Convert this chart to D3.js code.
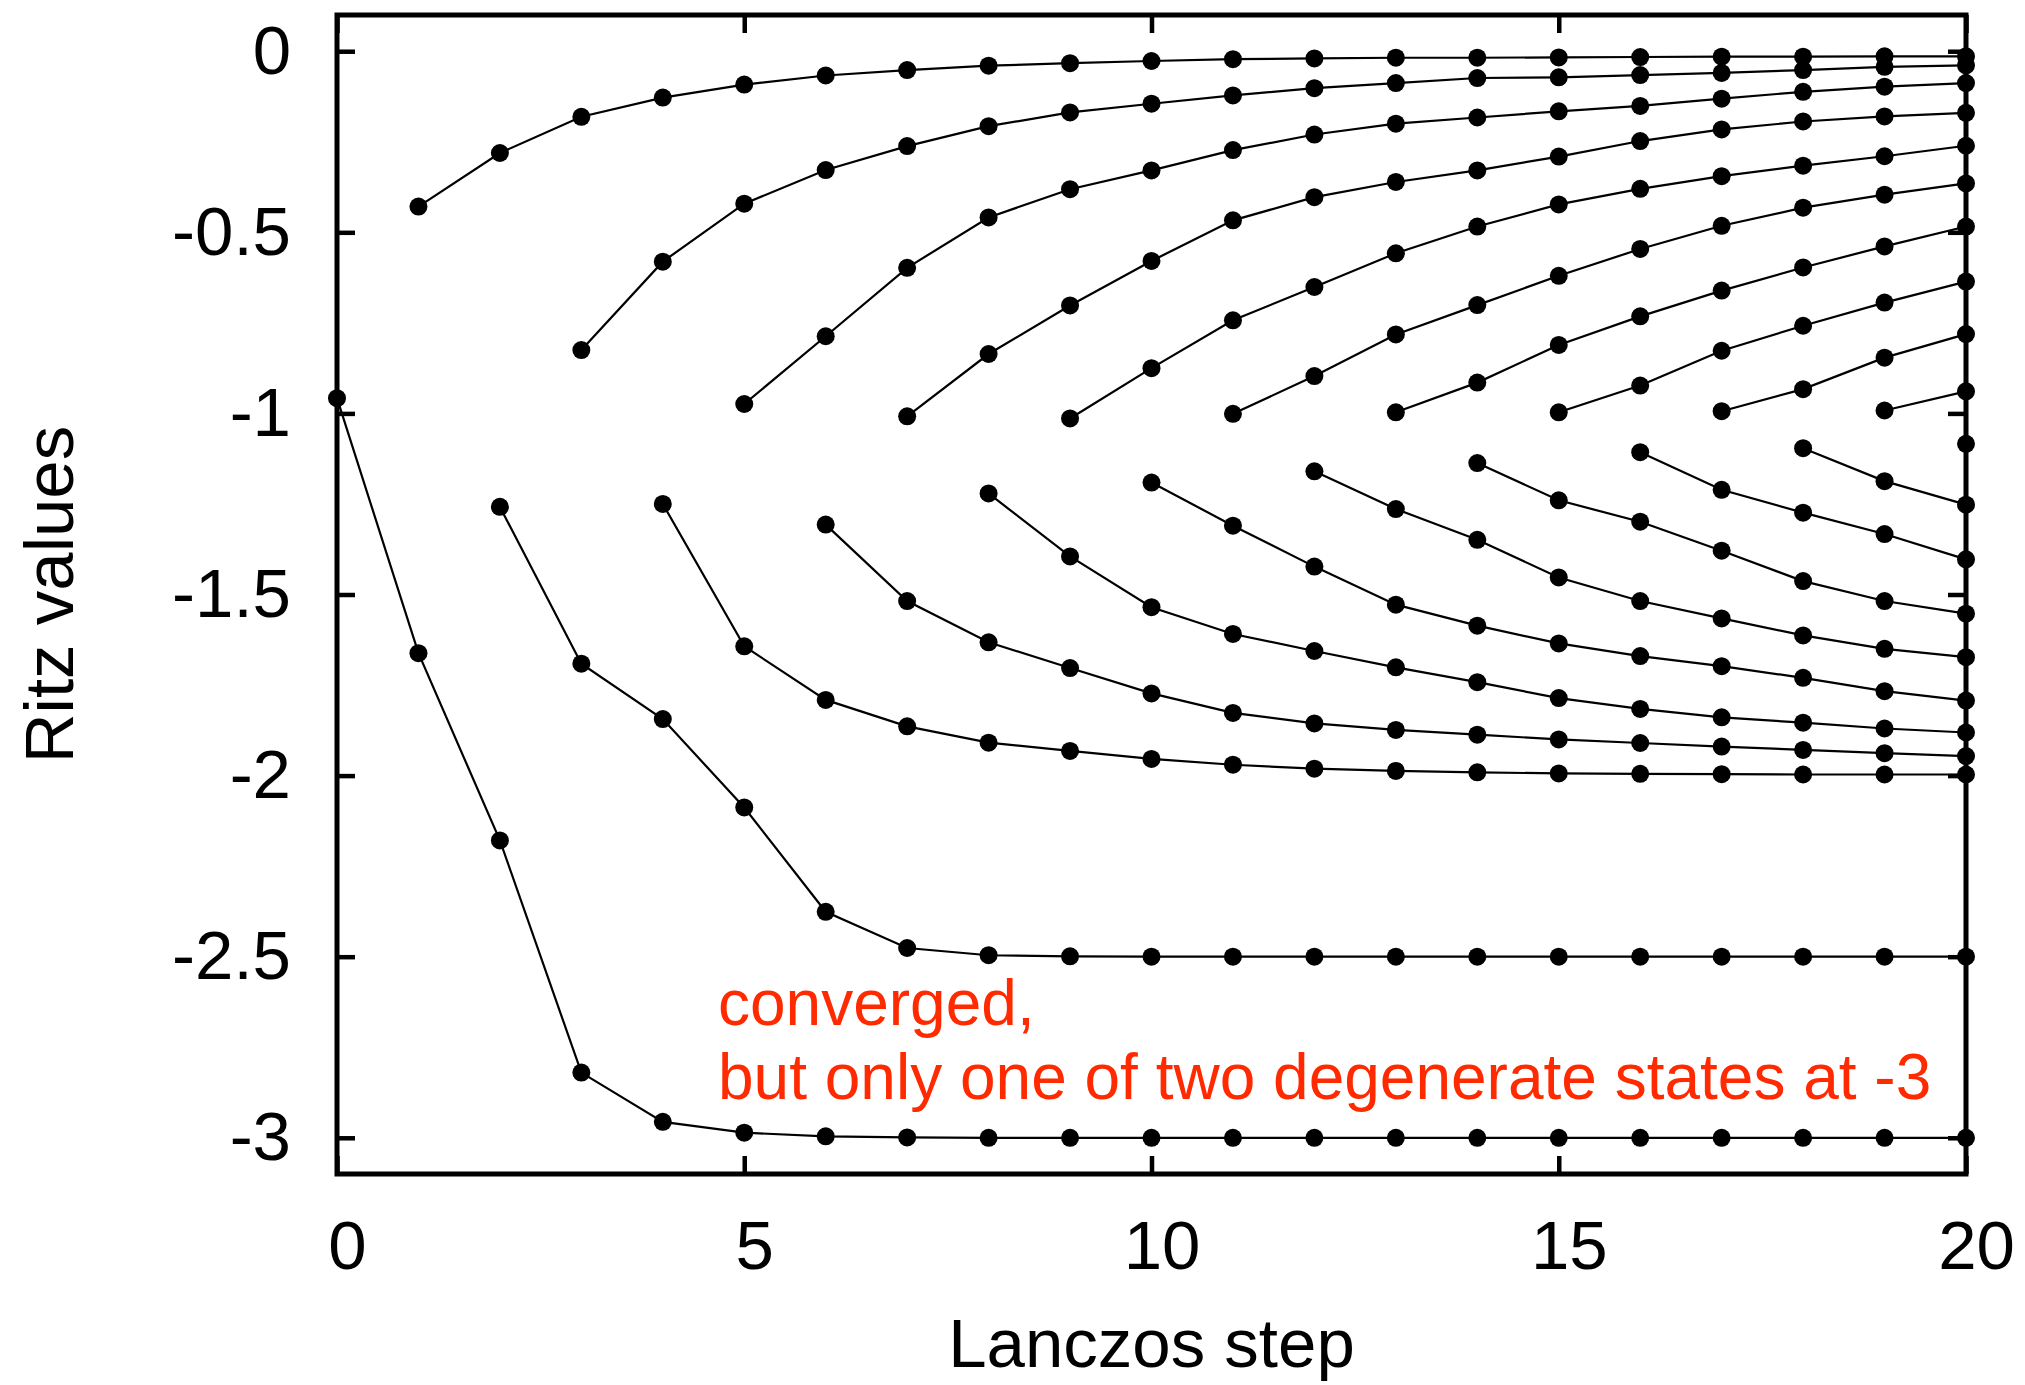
<!DOCTYPE html>
<html>
<head>
<meta charset="utf-8">
<script src="https://cdn.jsdelivr.net/npm/d3@7"></script>
<style>
  body { margin: 0; background: #fff; }
  text { font-family: "Liberation Sans", Arial, Helvetica, sans-serif; }
</style>
</head>
<body>
<div id="vis"></div>
<script>
const FRAME_WIDTH = 2025;
const FRAME_HEIGHT = 1385;
const MARGINS = { left: 337, right: 59, top: 15, bottom: 211 };

// x positions (Lanczos steps)
const steps = [0, 1, 2, 3, 4, 5, 6, 7, 8, 9, 10, 11, 12, 13, 14, 15, 16, 17, 18, 19, 20];

// Ritz values that climb towards the top, each starts at the given step
const topStarts = [1, 3, 5, 7, 9, 11, 13, 15, 17, 19];
const top0 = [-0.429, -0.281, -0.181, -0.128, -0.092, -0.067, -0.052, -0.040, -0.033, -0.027,
  -0.022, -0.020, -0.018, -0.018, -0.017, -0.016, -0.015, -0.015, -0.014, -0.014];
const top1 = [-0.825, -0.581, -0.421, -0.328, -0.262, -0.207, -0.169, -0.145, -0.122, -0.102,
  -0.088, -0.074, -0.072, -0.066, -0.060, -0.052, -0.043, -0.039];
const top2 = [-0.974, -0.787, -0.598, -0.459, -0.381, -0.329, -0.273, -0.230, -0.200, -0.183,
  -0.166, -0.151, -0.131, -0.112, -0.098, -0.088];
const top3 = [-1.008, -0.836, -0.702, -0.579, -0.467, -0.403, -0.361, -0.329, -0.291, -0.248,
  -0.216, -0.194, -0.180, -0.170];
const top4 = [-1.014, -0.875, -0.743, -0.651, -0.558, -0.484, -0.423, -0.380, -0.345, -0.316,
  -0.290, -0.261];
const top5 = [-1.001, -0.897, -0.782, -0.701, -0.620, -0.546, -0.482, -0.432, -0.396, -0.365];
const top6 = [-0.997, -0.915, -0.811, -0.732, -0.661, -0.597, -0.539, -0.484];
const top7 = [-0.997, -0.923, -0.827, -0.758, -0.694, -0.636];
const top8 = [-0.994, -0.933, -0.846, -0.781];
const top9 = [-0.992, -0.939];

// Ritz values that fall towards the bottom
const bottomStarts = [0, 2, 4, 6, 8, 10, 12, 14, 16, 18, 20];
const bottom0 = [-0.958, -1.662, -2.179, -2.820, -2.956, -2.986, -2.996, -2.999, -3.0, -3.0,
  -3.0, -3.0, -3.0, -3.0, -3.0, -3.0, -3.0, -3.0, -3.0, -3.0, -3.0];
const bottom1 = [-1.258, -1.691, -1.844, -2.088, -2.376, -2.476, -2.496, -2.499, -2.5, -2.5,
  -2.5, -2.5, -2.5, -2.5, -2.5, -2.5, -2.5, -2.5, -2.5];
const bottom2 = [-1.250, -1.643, -1.791, -1.864, -1.909, -1.932, -1.954, -1.970, -1.981, -1.987,
  -1.991, -1.994, -1.995, -1.996, -1.997, -1.997, -1.997];
const bottom3 = [-1.307, -1.518, -1.632, -1.703, -1.773, -1.827, -1.856, -1.874, -1.887, -1.900,
  -1.910, -1.920, -1.929, -1.938, -1.946];
const bottom4 = [-1.221, -1.395, -1.535, -1.609, -1.656, -1.701, -1.742, -1.786, -1.816, -1.839,
  -1.854, -1.870, -1.881];
const bottom5 = [-1.191, -1.310, -1.423, -1.528, -1.586, -1.635, -1.670, -1.698, -1.730, -1.767, -1.793];
const bottom6 = [-1.160, -1.264, -1.349, -1.453, -1.518, -1.566, -1.613, -1.650, -1.673];
const bottom7 = [-1.137, -1.240, -1.299, -1.379, -1.463, -1.518, -1.553];
const bottom8 = [-1.107, -1.211, -1.274, -1.333, -1.403];
const bottom9 = [-1.096, -1.187, -1.252];
const bottom10 = [-1.084];

const xTicks = [0, 5, 10, 15, 20];
const yTicks = [0, -0.5, -1, -1.5, -2, -2.5, -3];

const annotationLines = ['converged,', 'but only one of two degenerate states at -3'];

function buildRitzPlot() {
  const VIS_WIDTH = FRAME_WIDTH - MARGINS.left - MARGINS.right;
  const VIS_HEIGHT = FRAME_HEIGHT - MARGINS.top - MARGINS.bottom;

  const FRAME = d3
    .select('#vis')
    .append('svg')
    .attr('width', FRAME_WIDTH)
    .attr('height', FRAME_HEIGHT)
    .style('display', 'block');

  FRAME.append('rect')
    .attr('width', FRAME_WIDTH)
    .attr('height', FRAME_HEIGHT)
    .attr('fill', '#fff');

  const X_SCALE = d3.scaleLinear().domain([0, 20]).range([0, VIS_WIDTH]);
  const Y_SCALE = d3.scaleLinear().domain([-3.1, 0.1]).range([VIS_HEIGHT, 0]);

  // pair every curve with the step where it starts
  const tops = [top0, top1, top2, top3, top4, top5, top6, top7, top8, top9];
  const bottoms = [bottom0, bottom1, bottom2, bottom3, bottom4, bottom5, bottom6, bottom7, bottom8, bottom9, bottom10];
  const curves = tops
    .map((vals, i) => vals.map((v, j) => ({ step: steps[topStarts[i] + j], value: v })))
    .concat(bottoms.map((vals, i) => vals.map((v, j) => ({ step: steps[bottomStarts[i] + j], value: v }))));

  const PLOT = FRAME.append('g').attr('transform', 'translate(' + MARGINS.left + ',' + MARGINS.top + ')');

  // axes, ticks pointing inwards on all four sides
  const TICK = 18;
  const axisStyle = (g) => {
    g.select('.domain').remove();
    g.selectAll('.tick line').attr('stroke', '#000').attr('stroke-width', 4.5);
    g.selectAll('text').attr('font-size', 69).attr('fill', '#000');
  };

  PLOT.append('g')
    .call(d3.axisLeft(Y_SCALE).tickValues(yTicks).tickSizeInner(-TICK).tickSizeOuter(0)
      .tickPadding(46).tickFormat((d) => String(d)))
    .call(axisStyle);

  PLOT.append('g')
    .attr('transform', 'translate(' + VIS_WIDTH + ',0)')
    .call(d3.axisRight(Y_SCALE).tickValues(yTicks).tickSizeInner(-TICK).tickSizeOuter(0).tickFormat(''))
    .call(axisStyle);

  PLOT.append('g')
    .attr('transform', 'translate(0,' + VIS_HEIGHT + ')')
    .call(d3.axisBottom(X_SCALE).tickValues(xTicks).tickSizeInner(-TICK).tickSizeOuter(0)
      .tickPadding(46).tickFormat((d) => String(d)))
    .call(axisStyle)
    .selectAll('text')
    .attr('dx', 10);

  PLOT.append('g')
    .call(d3.axisTop(X_SCALE).tickValues(xTicks).tickSizeInner(-TICK).tickSizeOuter(0).tickFormat(''))
    .call(axisStyle);

  PLOT.append('rect')
    .attr('width', VIS_WIDTH)
    .attr('height', VIS_HEIGHT)
    .attr('fill', 'none')
    .attr('stroke', '#000')
    .attr('stroke-width', 5);

  // lines through the Ritz values
  const line = d3.line()
    .x((d) => X_SCALE(d.step))
    .y((d) => Y_SCALE(d.value));

  PLOT.selectAll('.curve')
    .data(curves)
    .enter()
    .append('path')
    .attr('class', 'curve')
    .attr('d', line)
    .attr('fill', 'none')
    .attr('stroke', '#000')
    .attr('stroke-width', 2.2);

  PLOT.selectAll('.point')
    .data(curves.flat())
    .enter()
    .append('circle')
    .attr('class', 'point')
    .attr('cx', (d) => X_SCALE(d.step))
    .attr('cy', (d) => Y_SCALE(d.value))
    .attr('r', 9)
    .attr('fill', '#000');

  // annotation
  const note = PLOT.append('text')
    .attr('x', 381)
    .attr('y', 1010)
    .attr('font-size', 64)
    .attr('fill', '#ff2a00');
  note.selectAll('tspan')
    .data(annotationLines)
    .enter()
    .append('tspan')
    .attr('x', 381)
    .attr('dy', (d, i) => (i === 0 ? 0 : 74))
    .text((d) => d);

  // axis titles
  FRAME.append('text')
    .attr('x', MARGINS.left + VIS_WIDTH / 2)
    .attr('y', 1367)
    .attr('text-anchor', 'middle')
    .attr('font-size', 69)
    .text('Lanczos step');

  FRAME.append('text')
    .attr('transform', 'translate(73,' + (MARGINS.top + VIS_HEIGHT / 2) + ') rotate(-90)')
    .attr('text-anchor', 'middle')
    .attr('font-size', 69)
    .text('Ritz values');
}

buildRitzPlot();
</script>
</body>
</html>
